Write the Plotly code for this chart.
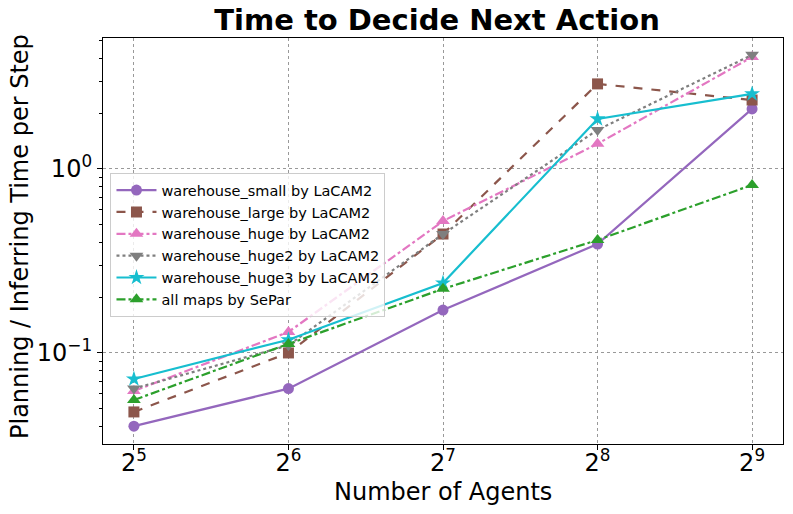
import plotly.graph_objects as go
import math

agents = [32, 64, 128, 256, 512]
small = [0.040, 0.064, 0.171, 0.391, 2.12]
large = [0.0478, 0.100, 0.443, 2.90, 2.37]
huge = [0.0621, 0.130, 0.521, 1.37, 4.06]
huge2 = [0.064, 0.110, 0.443, 1.63, 4.17]
huge3 = [0.0722, 0.118, 0.240, 1.87, 2.56]
separ = [0.0555, 0.112, 0.223, 0.411, 0.819]

series = [
    ("warehouse_small by LaCAM2", small, "#9467bd", "solid", "circle", 11),
    ("warehouse_large by LaCAM2", large, "#8c564b", "dash", "square", 11),
    ("warehouse_huge by LaCAM2", huge, "#e377c2", "dashdot", "triangle-up", 12),
    ("warehouse_huge2 by LaCAM2", huge2, "#7f7f7f", "dot", "triangle-down", 12),
    ("warehouse_huge3 by LaCAM2", huge3, "#17becf", "solid", "star", 12),
    ("all maps by SePar", separ, "#2ca02c", "dashdot", "triangle-up", 12),
]

x_ticklabels = ["2<sup>5</sup>", "2<sup>6</sup>", "2<sup>7</sup>", "2<sup>8</sup>", "2<sup>9</sup>"]
y_tickvals = [0.1, 1]
y_ticklabels = ["10<sup>\u22121</sup>", "10<sup>0</sup>"]
y_minor = [0.04, 0.05, 0.06, 0.07, 0.08, 0.09, 0.2, 0.3, 0.4, 0.5, 0.6, 0.7, 0.8, 0.9, 2, 3, 4, 5]

W, H = 793, 514
L, R, T, B = 103, 10, 38, 70

fig = go.Figure()
for i, (name, vals, color, dash, sym, size) in enumerate(series):
    fig.add_trace(go.Scatter(
        x=agents, y=vals, name=name, mode="lines+markers",
        line=dict(color=color, width=2.2, dash=dash),
        marker=dict(symbol=sym, size=size, color=color),
    ))

fig.update_layout(
    width=W, height=H,
    paper_bgcolor="white", plot_bgcolor="white",
    font=dict(family="DejaVu Sans", color="black"),
    margin=dict(l=L, r=R, t=T, b=B, autoexpand=False),
    title=dict(text="<b>Time to Decide Next Action</b>", x=437 / W, xanchor="center",
               y=1 - 20 / H, yanchor="middle", font=dict(size=29), automargin=False),
    legend=dict(x=0.011, y=0.667, xanchor="left", yanchor="top",
                bgcolor="rgba(255,255,255,0.8)", bordercolor="#cccccc", borderwidth=1,
                font=dict(size=14.5), tracegroupgap=0, itemwidth=40),
    showlegend=True,
    annotations=[
        dict(text="Number of Agents", xref="paper", yref="paper",
             x=0.5, y=-(492 - (H - B)) / (H - T - B), xanchor="center", yanchor="middle",
             showarrow=False, font=dict(size=24)),
        dict(text="Planning / Inferring Time per Step", xref="paper", yref="paper",
             x=-(L - 20) / (W - L - R), y=(H - B - 237) / (H - T - B), xanchor="center", yanchor="middle",
             textangle=-90, showarrow=False, font=dict(size=24)),
    ],
)
fig.update_xaxes(
    type="log", range=[4.8 * math.log10(2), 9.2 * math.log10(2)],
    tickvals=agents, ticktext=x_ticklabels, tickfont=dict(size=24),
    ticks="outside", ticklen=5, tickcolor="black", automargin=False,
    ticklabelstandoff=-8,
    showgrid=True, gridcolor="#999999", griddash="dot", gridwidth=1,
    showline=True, linecolor="black", linewidth=1.2, mirror=True,
    zeroline=False,
)
fig.update_yaxes(
    type="log", range=[math.log10(0.032), math.log10(5.15)],
    tickvals=y_tickvals, ticktext=y_ticklabels, tickfont=dict(size=24),
    ticks="outside", ticklen=5, tickcolor="black", automargin=False,
    minor=dict(tickvals=y_minor, ticks="outside", ticklen=3, tickcolor="black", showgrid=False),
    showgrid=True, gridcolor="#999999", griddash="dot", gridwidth=1,
    showline=True, linecolor="black", linewidth=1.2, mirror=True,
    zeroline=False,
)
fig.write_html("out.html", config={"displayModeBar": False},
               post_script="document.body.style.margin='0';")
